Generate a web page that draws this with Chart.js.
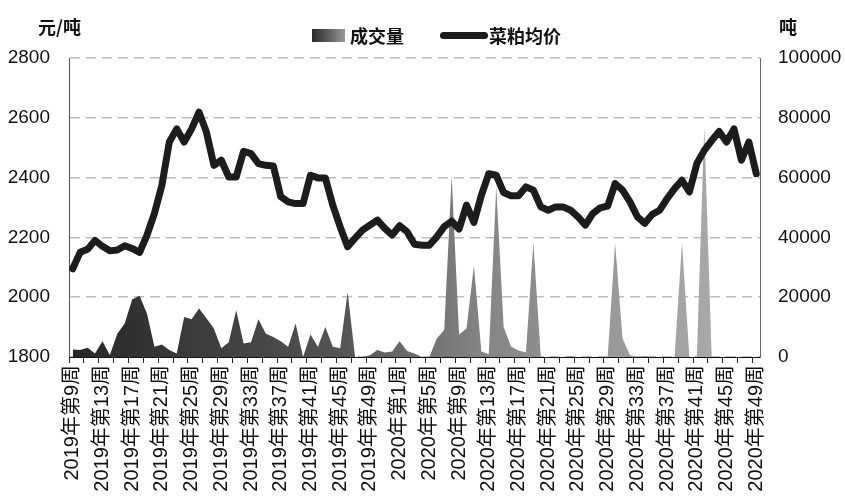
<!DOCTYPE html>
<html>
<head>
<meta charset="utf-8">
<script src="https://cdn.jsdelivr.net/npm/chart.js@4"></script>
<style>
  body { margin: 0; background: #fff; }
  #wrap { position: relative; width: 845px; height: 503px; background: #fff; }
  #wrap canvas { position: absolute; left: 0; top: 0; }
  .txt { position: absolute; font-family: "Noto Sans CJK SC", "Liberation Sans", sans-serif; font-size: 18px; font-weight: bold; color: #111; line-height: 1; white-space: nowrap; }
  .swatch { position: absolute; }
</style>
</head>
<body>
<div id="wrap">
  <canvas id="myChart" width="845" height="503"></canvas>
  <div class="txt" style="left:38px; top:17px;">元/吨</div>
  <div class="txt" style="left:779px; top:17px;">吨</div>
  <div class="swatch" style="left:312px; top:29px; width:33px; height:13px; background:linear-gradient(90deg,#2a2a2a,#6a6a6a 60%,#9a9a9a);"></div>
  <div class="txt" style="left:350px; top:26px;">成交量</div>
  <div class="swatch" style="left:440px; top:32px; width:48px; height:7px; border-radius:4px; background:#1c1c1c;"></div>
  <div class="txt" style="left:489px; top:26px;">菜粕均价</div>
</div>
<script>
// ------- DATA -------
// weekly categories, 2019 week 9 .. 2020 week 49
var weeks = [];
for (var w = 9; w <= 52; w++) weeks.push('2019年第' + w + '周');
for (var w = 1; w <= 49; w++) weeks.push('2020年第' + w + '周');

// 菜粕均价 (元/吨)
const price = [
  2095, 2150, 2160, 2190, 2170, 2155, 2158, 2172, 2163, 2150,
  2208, 2280, 2374, 2519, 2563, 2519, 2563, 2619, 2552, 2441,
  2458, 2402, 2402, 2488, 2480, 2447, 2441, 2439, 2336, 2319,
  2313, 2313, 2408, 2399, 2399, 2308, 2235, 2169, 2197, 2224,
  2241, 2258, 2230, 2208, 2239, 2219, 2177, 2174, 2174, 2202,
  2236, 2254, 2228, 2308, 2250, 2341, 2413, 2408, 2350, 2339,
  2339, 2369, 2358, 2302, 2291, 2302, 2302, 2291, 2269, 2241,
  2280, 2299, 2305, 2380, 2358, 2319, 2269, 2247, 2277, 2291,
  2330, 2363, 2391, 2352, 2447, 2491, 2524, 2554, 2519, 2563,
  2458, 2519, 2413
];

// 成交量 (吨)
const volume = [
  2500, 2300, 3100, 1200, 5300, 700, 7800, 11200, 19200, 20500,
  14500, 3400, 4200, 2300, 1200, 13400, 12600, 16200, 13000, 9500,
  2900, 4900, 15600, 4500, 4900, 12600, 7800, 6700, 5300, 3400,
  11200, 0, 7500, 3400, 10000, 3400, 2900, 21700, 0, 0,
  600, 2300, 1500, 1800, 5300, 2000, 1200, 0, 0, 6200,
  9000, 60500, 7500, 9500, 30500, 1800, 900, 57000, 10000, 3400,
  2200, 1500, 38300, 0, 0, 0, 0, 300, 0, 0,
  0, 0, 0, 38200, 6200, 700, 0, 400, 0, 0,
  0, 0, 38200, 0, 0, 77000, 0, 0, 0, 0,
  0, 0, 0
];

const priceTicks = { min: 1800, max: 2800, step: 200 };
const volumeTicks = { min: 0, max: 100000, step: 20000 };

const fontFamily = "'Liberation Sans', 'Noto Sans CJK SC', sans-serif";

// grey gradient across the area, dark on the left, light on the right
function areaFill(context) {
  const chart = context.chart;
  const area = chart.chartArea;
  if (!area) return '#666';
  const g = chart.ctx.createLinearGradient(area.left, 0, area.right, 0);
  g.addColorStop(0, '#262626');
  g.addColorStop(0.4, '#555555');
  g.addColorStop(0.6, '#858585');
  g.addColorStop(1, '#b0b0b0');
  return g;
}

// plain numbers, no thousands separator
function plainNumber(value) {
  return String(value);
}

const data = {
  labels: weeks,
  datasets: [{
    label: '菜粕均价',
    data: price,
    yAxisID: 'y',
    borderColor: '#1c1c1c',
    borderWidth: 7,
    borderJoinStyle: 'round',
    borderCapStyle: 'round',
    tension: 0,
    pointRadius: 0,
    fill: false,
    order: 0
  }, {
    label: '成交量',
    data: volume,
    yAxisID: 'y1',
    borderWidth: 0,
    backgroundColor: areaFill,
    pointRadius: 0,
    tension: 0,
    fill: 'origin',
    order: 1
  }]
};

const config = {
  type: 'line',
  data,
  options: {
    responsive: false,
    animation: false,
    devicePixelRatio: 1,
    layout: {
      padding: { top: 58, bottom: 0, left: 0, right: 0 }
    },
    plugins: {
      legend: { display: false },
      tooltip: { enabled: false }
    },
    scales: {
      x: {
        offset: true,
        grid: {
          offset: true,
          drawOnChartArea: false,
          tickLength: 6,
          tickColor: function(ctx) { return ctx.index % 2 === 0 ? '#222' : 'rgba(0,0,0,0)'; }
        },
        border: { display: true, color: '#111', width: 1 },
        ticks: {
          autoSkip: false,
          minRotation: 90,
          maxRotation: 90,
          padding: 2,
          color: '#111',
          font: { family: fontFamily, size: 20 },
          callback: function(val, idx) { return idx % 4 === 0 ? weeks[idx] : ''; }
        },
        afterFit: function(scale) { scale.height = 146; }
      },
      y: {
        position: 'left',
        min: priceTicks.min,
        max: priceTicks.max,
        grid: {
          color: '#bdbdbd',
          lineWidth: 1.5,
          drawTicks: false,
          borderDash: [10, 6]
        },
        border: { display: true, color: '#555', width: 1, dash: [10, 6] },
        ticks: {
          stepSize: priceTicks.step,
          padding: 19,
          color: '#111',
          font: { family: fontFamily, size: 19 },
          callback: plainNumber
        },
        afterFit: function(scale) { scale.width = 69; }
      },
      y1: {
        position: 'right',
        min: volumeTicks.min,
        max: volumeTicks.max,
        grid: { drawOnChartArea: false, drawTicks: false },
        border: { display: true, color: '#666', width: 1 },
        ticks: {
          stepSize: volumeTicks.step,
          padding: 18,
          color: '#111',
          font: { family: fontFamily, size: 19 },
          callback: plainNumber
        },
        afterFit: function(scale) { scale.width = 85; }
      }
    }
  }
};

const myChart = new Chart(document.getElementById('myChart'), config);
</script>
</body>
</html>
